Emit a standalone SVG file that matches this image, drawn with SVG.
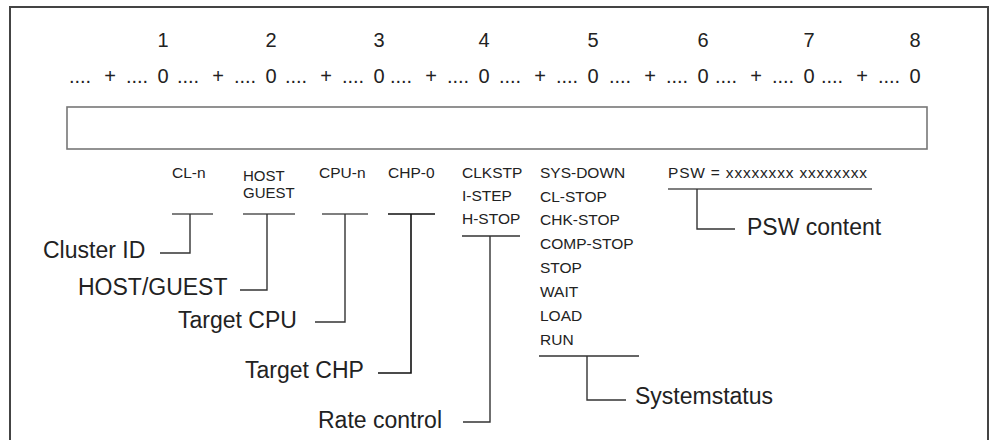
<svg xmlns="http://www.w3.org/2000/svg" width="990" height="440" viewBox="0 0 990 440">
<style>
text{font-family:"Liberation Sans",Arial,sans-serif;fill:#222}
.num{font-size:20px;text-anchor:middle}
.sm{font-size:15.5px}
.hg{font-size:15px}
.lg{font-size:23px}
.ln{stroke:#333;stroke-width:1.4;fill:none}
.hl{stroke:#555;stroke-width:1.4;fill:none}
</style>
<rect x="0" y="0" width="990" height="440" fill="#fff"/>
<rect x="10" y="7" width="978" height="450" fill="none" stroke="#444" stroke-width="2"/>
<g id="scale">
<text class="num" y="47"><tspan x="163">1</tspan><tspan x="271">2</tspan><tspan x="379">3</tspan><tspan x="484">4</tspan><tspan x="593">5</tspan><tspan x="703">6</tspan><tspan x="809">7</tspan><tspan x="915">8</tspan></text>
<text class="num" y="83"><tspan x="80">....</tspan><tspan x="110">+</tspan><tspan x="137">....</tspan><tspan x="163">0</tspan><tspan x="188">....</tspan><tspan x="218">+</tspan><tspan x="245">....</tspan><tspan x="271">0</tspan><tspan x="296">....</tspan><tspan x="326">+</tspan><tspan x="353">....</tspan><tspan x="379">0</tspan><tspan x="401">....</tspan><tspan x="431">+</tspan><tspan x="458">....</tspan><tspan x="484">0</tspan><tspan x="510">....</tspan><tspan x="540">+</tspan><tspan x="567">....</tspan><tspan x="593">0</tspan><tspan x="620">....</tspan><tspan x="650">+</tspan><tspan x="677">....</tspan><tspan x="703">0</tspan><tspan x="726">....</tspan><tspan x="756">+</tspan><tspan x="783">....</tspan><tspan x="809">0</tspan><tspan x="832">....</tspan><tspan x="862">+</tspan><tspan x="889">....</tspan><tspan x="915">0</tspan></text>
</g>
<g id="field"><rect x="67" y="107" width="860" height="42" fill="#fff" stroke="#777" stroke-width="1.6"/></g>
<g id="cl"><text class="sm" x="172" y="178">CL-n</text></g>
<g id="host"><text class="hg" x="243" y="181">HOST</text><text class="hg" x="243" y="198">GUEST</text></g>
<g id="cpu"><text class="sm" x="319" y="178">CPU-n</text></g>
<g id="chp"><text class="sm" x="388" y="178">CHP-0</text></g>
<g id="rate"><text class="sm" x="462" y="178">CLKSTP</text><text class="sm" x="462" y="201">I-STEP</text><text class="sm" x="462" y="224">H-STOP</text></g>
<g id="status"><text class="sm" x="540" y="178">SYS-DOWN</text><text class="sm" x="540" y="202">CL-STOP</text><text class="sm" x="540" y="225">CHK-STOP</text><text class="sm" x="540" y="249">COMP-STOP</text><text class="sm" x="540" y="273">STOP</text><text class="sm" x="540" y="297">WAIT</text><text class="sm" x="540" y="321">LOAD</text><text class="sm" x="540" y="345">RUN</text></g>
<g id="psw"><text class="sm" x="668" y="178" textLength="199" lengthAdjust="spacing">PSW = xxxxxxxx xxxxxxxx</text></g>
<g id="lbl-cluster"><text class="lg" x="43" y="258">Cluster ID</text></g>
<g id="lbl-hostguest"><text class="lg" x="78" y="295">HOST/GUEST</text></g>
<g id="lbl-cpu"><text class="lg" x="178" y="328">Target CPU</text></g>
<g id="lbl-chp"><text class="lg" x="245" y="378">Target CHP</text></g>
<g id="lbl-rate"><text class="lg" x="318" y="428">Rate control</text></g>
<g id="lbl-status"><text class="lg" x="635" y="404">Systemstatus</text></g>
<g id="lbl-psw"><text class="lg" x="747" y="235">PSW content</text></g>
<g id="connectors">
<path class="hl" d="M172 214H213M243 214H295M322 214H368M668 189H872"/>
<path class="ln" d="M190 214V253H160M267 214V290H240M345 214V322H315"/>
<path d="M388 214H435M411 214V373H378" stroke="#111" stroke-width="1.6" fill="none"/>
<path class="ln" d="M462 236H520M490 236V422H463"/>
<path class="ln" d="M539 356H639M587 356V400H626"/>
<path class="ln" d="M697 189V229H735"/>
</g>
</svg>
